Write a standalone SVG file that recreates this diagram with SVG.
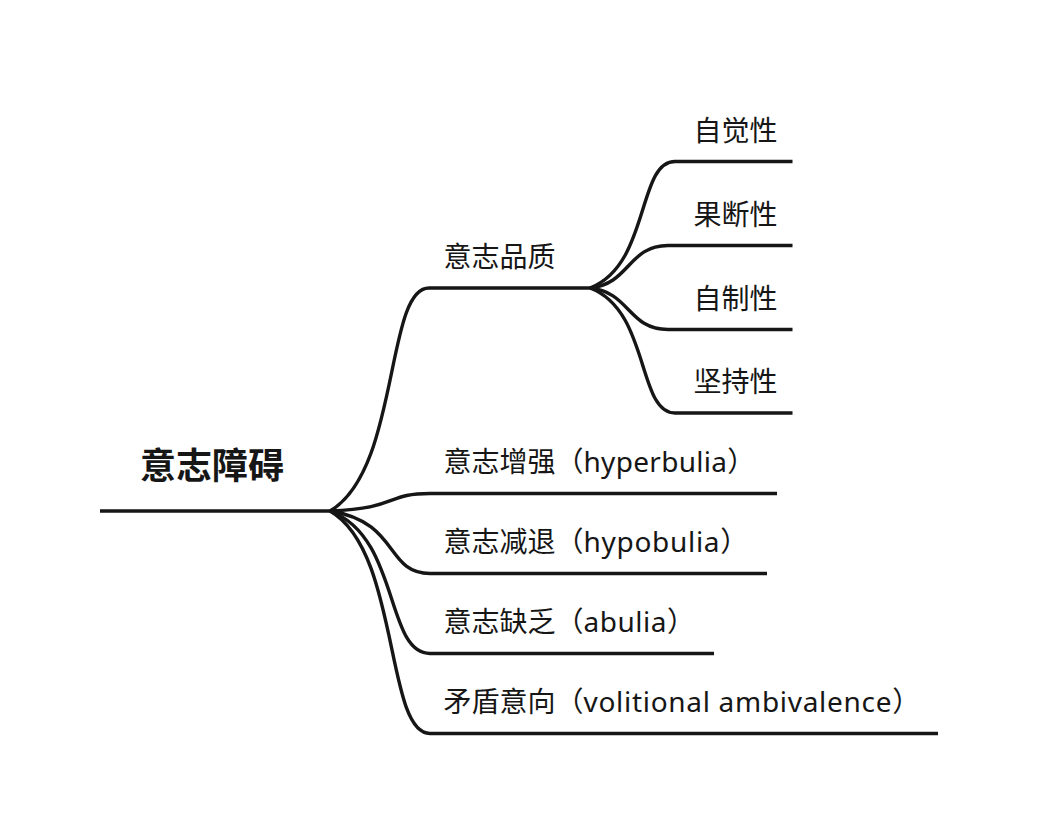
<svg xmlns="http://www.w3.org/2000/svg" width="1038" height="836" viewBox="0 0 1038 836">
<style>
.ln{fill:none;stroke:#161616;stroke-width:3.4;stroke-linecap:butt}
.t{font-family:"Noto Sans","Noto Sans CJK SC",sans-serif;font-size:28px;fill:#161616}
.lat{letter-spacing:0.5px}
.root{font-family:"Noto Sans CJK SC","Noto Sans",sans-serif;font-size:36px;font-weight:bold;fill:#161616}
</style>
<rect width="1038" height="836" fill="#ffffff"/>
<g id="connectors">
<path class="ln" d="M100,511 H330"/>
<path class="ln" d="M330,511 C400,470 385,288 429,288 H590"/>
<path class="ln" d="M330,511 C400,508 385,493.5 430,493.5 H777"/>
<path class="ln" d="M330,511 C400,522 385,573.5 430,573.5 H767"/>
<path class="ln" d="M330,511 C400,537 385,653.5 430,653.5 H714"/>
<path class="ln" d="M330,511 C400,551 385,733.5 430,733.5 H938"/>
<path class="ln" d="M590,288 C650,265 637,161.5 675,161.5 H792.5"/>
<path class="ln" d="M590,288 C630,284 628,245.5 668,245.5 H792.5"/>
<path class="ln" d="M590,288 C630,292 628,329.5 668,329.5 H792.5"/>
<path class="ln" d="M590,288 C650,310.5 637,413 675,413 H792.5"/>
</g>
<g id="node-root"><text class="root" x="140" y="479">意志障碍</text></g>
<g id="node-quality"><text class="t" x="443.5" y="266.5">意志品质</text></g>
<g id="node-zijue"><text class="t" x="693.5" y="140.5">自觉性</text></g>
<g id="node-guoduan"><text class="t" x="693.5" y="224.5">果断性</text></g>
<g id="node-zizhi"><text class="t" x="693.5" y="308.5">自制性</text></g>
<g id="node-jianchi"><text class="t" x="693.5" y="392">坚持性</text></g>
<g id="node-hyperbulia"><text class="t" x="443.5" y="472">意志增强（<tspan class="lat" style="letter-spacing:0.3px">hyperbulia</tspan>）</text></g>
<g id="node-hypobulia"><text class="t" x="443.5" y="552">意志减退（<tspan class="lat" style="letter-spacing:0.7px">hypobulia</tspan>）</text></g>
<g id="node-abulia"><text class="t" x="443.5" y="632">意志缺乏（<tspan class="lat">abulia</tspan>）</text></g>
<g id="node-ambivalence"><text class="t" x="443.5" y="712">矛盾意向（<tspan class="lat" style="letter-spacing:0.7px">volitional ambivalence</tspan>）</text></g>
</svg>
